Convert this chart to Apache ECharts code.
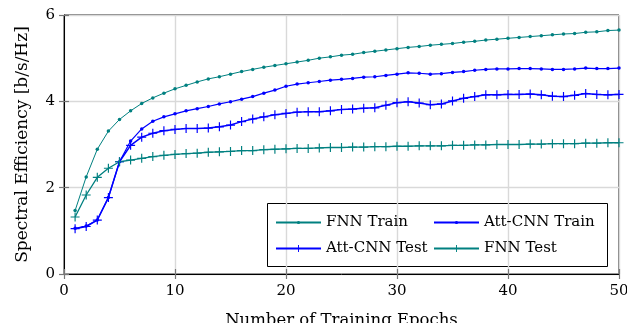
<!DOCTYPE html>
<html>
<head>
<meta charset="utf-8">
<script src="https://cdn.jsdelivr.net/npm/echarts@6/dist/echarts.min.js"></script>
<style>
  html, body { margin: 0; padding: 0; background: #fff; }
  #chart { width: 627px; height: 323px; }
</style>
</head>
<body>
<div id="chart"></div>
<script>
// Training epochs 1..50
const epochs = Array.from({ length: 50 }, (_, i) => i + 1);

const fnnTrain = [
  1.47, 2.25, 2.89, 3.31, 3.58, 3.78, 3.95, 4.08, 4.19, 4.29,
  4.37, 4.45, 4.52, 4.57, 4.63, 4.69, 4.74, 4.79, 4.83, 4.87,
  4.91, 4.95, 5.00, 5.03, 5.07, 5.09, 5.13, 5.16, 5.19, 5.22,
  5.25, 5.27, 5.30, 5.32, 5.34, 5.37, 5.39, 5.42, 5.44, 5.46,
  5.48, 5.50, 5.52, 5.54, 5.56, 5.57, 5.60, 5.61, 5.64, 5.65
];

const attCnnTrain = [
  1.06, 1.11, 1.25, 1.77, 2.60, 3.08, 3.36, 3.54, 3.64, 3.71,
  3.78, 3.83, 3.88, 3.94, 3.99, 4.05, 4.11, 4.19, 4.26, 4.35,
  4.40, 4.43, 4.46, 4.49, 4.51, 4.53, 4.56, 4.57, 4.60, 4.63,
  4.66, 4.65, 4.63, 4.64, 4.67, 4.69, 4.72, 4.74, 4.75, 4.75,
  4.76, 4.76, 4.75, 4.74, 4.74, 4.75, 4.77, 4.76, 4.76, 4.77
];

const attCnnTest = [
  1.05, 1.10, 1.25, 1.77, 2.60, 2.98, 3.17, 3.26, 3.32, 3.35,
  3.37, 3.37, 3.38, 3.41, 3.45, 3.53, 3.59, 3.64, 3.69, 3.72,
  3.75, 3.76, 3.76, 3.78, 3.81, 3.82, 3.84, 3.85, 3.91, 3.97,
  3.99, 3.96, 3.92, 3.94, 4.01, 4.07, 4.11, 4.15, 4.15, 4.16,
  4.16, 4.17, 4.15, 4.12, 4.11, 4.14, 4.18, 4.16, 4.15, 4.16
];

const fnnTest = [
  1.32, 1.83, 2.24, 2.45, 2.60, 2.64, 2.68, 2.72, 2.75, 2.77,
  2.79, 2.80, 2.82, 2.83, 2.84, 2.86, 2.86, 2.88, 2.89, 2.90,
  2.91, 2.91, 2.92, 2.93, 2.93, 2.94, 2.94, 2.95, 2.95, 2.96,
  2.96, 2.97, 2.97, 2.97, 2.98, 2.98, 2.99, 2.99, 3.00, 3.00,
  3.00, 3.01, 3.01, 3.02, 3.02, 3.02, 3.03, 3.03, 3.04, 3.04
];

const xTicks = [0, 10, 20, 30, 40, 50];
const yTicks = [0, 2, 4, 6];

const TEAL = '#008080';
const BLUE = '#0000ff';
const FONT = 'DejaVu Serif';
const PLUS = 'path://M-0.13,-1H0.13V-0.13H1V0.13H0.13V1H-0.13V0.13H-1V-0.13H-0.13Z';

const pairs = ys => epochs.map((e, i) => [e, ys[i]]);

const tickStyle = { show: true, inside: true, length: 5, lineStyle: { color: '#777', width: 1.2 } };
const gridLine = { show: true, lineStyle: { color: '#d9d9d9', width: 1.4 } };

// one legend entry per component so each keeps its own marker size
const legendEntry = (name, left, top, markerSize) => ({
  orient: 'horizontal', left, top, itemWidth: 45, itemHeight: markerSize,
  textStyle: { fontFamily: FONT, fontSize: 15, color: '#000' },
  data: [name]
});

const chart = echarts.init(document.getElementById('chart'), null, { renderer: 'canvas' });

chart.setOption({
  animation: false,
  backgroundColor: '#fff',
  textStyle: { fontFamily: FONT },
  grid: {
    left: 64, right: 8, top: 15, bottom: 49,
    outerBoundsMode: 'none', containLabel: false,
    show: true, borderColor: '#000', borderWidth: 1
  },
  xAxis: [{
    type: 'value', min: xTicks[0], max: xTicks[xTicks.length - 1], interval: 10,
    name: 'Number of Training Epochs', nameLocation: 'middle', nameGap: 38,
    nameTextStyle: { fontFamily: FONT, fontSize: 16.5, color: '#000' },
    axisLine: { show: true, lineStyle: { color: '#000', width: 1 } },
    axisTick: tickStyle,
    axisLabel: { fontFamily: FONT, fontSize: 15, color: '#000', margin: 10 },
    splitLine: gridLine
  }, {
    type: 'value', position: 'top', min: xTicks[0], max: xTicks[xTicks.length - 1], interval: 10,
    axisLine: { show: false }, axisTick: tickStyle, axisLabel: { show: false }, splitLine: { show: false }
  }],
  yAxis: [{
    type: 'value', min: yTicks[0], max: yTicks[yTicks.length - 1], interval: 2,
    name: 'Spectral Efficiency [b/s/Hz]', nameLocation: 'middle', nameGap: 33,
    nameTextStyle: { fontFamily: FONT, fontSize: 17, color: '#000' },
    axisLine: { show: true, lineStyle: { color: '#000', width: 1 } },
    axisTick: tickStyle,
    axisLabel: { fontFamily: FONT, fontSize: 15, color: '#000', margin: 9 },
    splitLine: gridLine
  }, {
    type: 'value', position: 'right', min: yTicks[0], max: yTicks[yTicks.length - 1], interval: 2,
    axisLine: { show: false }, axisTick: tickStyle, axisLabel: { show: false }, splitLine: { show: false }
  }],
  legend: [
    legendEntry('FNN Train', 270, 210, 4),
    legendEntry('Att-CNN Test', 270, 236, 9),
    legendEntry('Att-CNN Train', 428, 210, 4),
    legendEntry('FNN Test', 428, 236, 9)
  ],
  graphic: [{
    type: 'rect', left: 267, top: 203, z: 0,
    shape: { width: 340, height: 63 },
    style: { fill: '#fff', stroke: '#000', lineWidth: 1 }
  }],
  series: [{
    name: 'FNN Train', type: 'line', data: pairs(fnnTrain),
    symbol: 'circle', symbolSize: 3.5,
    lineStyle: { color: TEAL, width: 1 }, itemStyle: { color: TEAL }
  }, {
    name: 'Att-CNN Train', type: 'line', data: pairs(attCnnTrain),
    symbol: 'circle', symbolSize: 3.5,
    lineStyle: { color: BLUE, width: 1.2 }, itemStyle: { color: BLUE }
  }, {
    name: 'Att-CNN Test', type: 'line', data: pairs(attCnnTest),
    symbol: PLUS, symbolSize: 9,
    lineStyle: { color: BLUE, width: 1.5 }, itemStyle: { color: BLUE }
  }, {
    name: 'FNN Test', type: 'line', data: pairs(fnnTest),
    symbol: PLUS, symbolSize: 9,
    lineStyle: { color: TEAL, width: 1.3 }, itemStyle: { color: TEAL }
  }]
});
</script>
</body>
</html>
